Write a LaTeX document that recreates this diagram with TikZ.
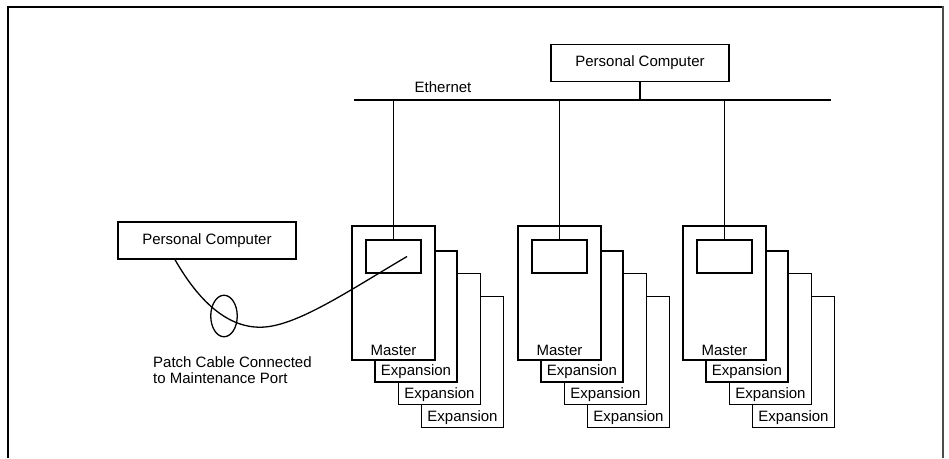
\documentclass[tikz,border=0pt]{standalone}
\usepackage{fontspec}
\setmainfont{Liberation Sans}
\usetikzlibrary{shapes.geometric}
\begin{document}
\begin{tikzpicture}[x=1pt,y=-1pt,
  wire/.style={line width=1.3pt},
  box/.style={draw, line width=1.3pt, fill=white, inner sep=0pt},
  pcbox/.style={box, minimum width=178pt, minimum height=37pt, font=\fontsize{15}{18}\selectfont},
  masterbox/.style={draw, line width=2pt, fill=white, minimum width=83pt, minimum height=134pt, inner sep=0pt},
  expbox/.style={box, minimum width=82pt, minimum height=131pt},
  screenbox/.style={box, minimum width=55pt, minimum height=33pt},
  lbl/.style={font=\fontsize{15}{18}\selectfont, inner sep=0pt},
  clampring/.style={draw, ellipse, line width=1.3pt, minimum width=26.5pt, minimum height=41.5pt, inner sep=0pt}]
\useasboundingbox (0,0) rectangle (949,458);
% frame
\draw[line width=2pt] (8,458) -- (8,7) -- (943,7);
\draw[line width=2pt, black!70] (943,6) -- (943,458);
% ethernet
\coordinate (ethl) at (354,100);
\coordinate (ethr) at (831,100);
\draw[wire] (ethl) -- (ethr);
\node[lbl] (ethlbl) at (443,87) {Ethernet};
\node[pcbox] (pcT) at (640,63) {Personal Computer};
\draw[wire] (pcT.south) -- (pcT.south |- ethl);
% groups
\foreach \g/\dx in {1/0,2/166,3/331} {
  \node[expbox] (e\g-3) at (462.5+\dx,362) {};
  \node[lbl] (t\g-3) at ([yshift=11pt]e\g-3.south) {Expansion};
  \node[expbox] (e\g-2) at (439.5+\dx,339) {};
  \node[lbl] (t\g-2) at ([yshift=11pt]e\g-2.south) {Expansion};
  \node[expbox] (e\g-1) at (416+\dx,316.5) {};
  \node[lbl] (t\g-1) at ([yshift=11pt]e\g-1.south) {Expansion};
  \node[masterbox] (m\g) at (393.5+\dx,293) {};
  \node[lbl] (tm\g) at ([yshift=11pt]m\g.south) {Master};
  \node[screenbox] (s\g) at (393.5+\dx,256.5) {};
  \draw[wire] (s\g.north) -- (s\g.north |- ethl);
}
% maintenance PC
\node[pcbox] (pcL) at (207,240.5) {Personal Computer};
\node[clampring] (clamp) at (224,316) {};
\draw[wire] ([xshift=-32pt]pcL.south) .. controls (198,300) and (228,330) .. (265,327)
  .. controls (300,324) and (350,290) .. ([xshift=13.5pt]s1.center);
\node[lbl, anchor=north west, align=left, font=\fontsize{15}{16.5}\selectfont] (patch) at (153,356)
  {Patch Cable Connected\\to Maintenance Port};
\end{tikzpicture}
\end{document}
